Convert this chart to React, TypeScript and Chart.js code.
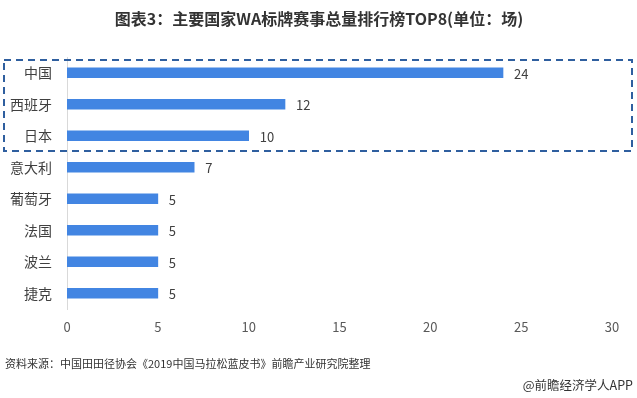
import React, { useEffect, useRef } from "react";
import { Chart, registerables } from "chart.js";

Chart.register(...registerables);

const categories = ["中国", "西班牙", "日本", "意大利", "葡萄牙", "法国", "波兰", "捷克"];
const values = [24, 12, 10, 7, 5, 5, 5, 5];
const xTicks = [0, 5, 10, 15, 20, 25, 30];
const titleText = "图表3：主要国家WA标牌赛事总量排行榜TOP8(单位：场)";
const sourceText = "资料来源：中国田田径协会《2019中国马拉松蓝皮书》前瞻产业研究院整理";
const creditText = "@前瞻经济学人APP";
const highlightCount = 3;

const FONT = '"Noto Sans CJK SC", "Noto Sans", sans-serif';

const overlayPlugin = {
  id: "overlay",
  afterDatasetsDraw(chart: any) {
    const ctx = chart.ctx as CanvasRenderingContext2D;
    const meta = chart.getDatasetMeta(0);
    ctx.save();
    // data labels
    ctx.font = `13px ${FONT}`;
    ctx.fillStyle = "#404040";
    ctx.textBaseline = "middle";
    ctx.textAlign = "left";
    meta.data.forEach((bar: any, i: number) => {
      ctx.fillText(String(values[i]), bar.x + 11, bar.y + 1);
    });
    // dashed highlight box
    const yScale = chart.scales.y;
    const step = yScale.getPixelForValue(1) - yScale.getPixelForValue(0);
    const top = yScale.getPixelForValue(0) - step / 2 + 3;
    const bottom = yScale.getPixelForValue(highlightCount - 1) + step / 2 - 0.5;
    ctx.strokeStyle = "#2f5f9f";
    ctx.lineWidth = 2;
    ctx.setLineDash([7, 5]);
    ctx.strokeRect(4, top, 628, bottom - top);
    ctx.setLineDash([]);
    // title
    ctx.font = `bold 16px ${FONT}`;
    ctx.fillStyle = "#333333";
    ctx.textAlign = "center";
    ctx.fillText(titleText, 319, 19);
    // footer
    ctx.font = `11px ${FONT}`;
    ctx.textAlign = "left";
    ctx.fillStyle = "#333333";
    ctx.fillText(sourceText, 5, 364);
    ctx.font = `12.5px ${FONT}`;
    ctx.textAlign = "right";
    ctx.fillText(creditText, 633, 385);
    ctx.restore();
  },
};

export default function App() {
  const ref = useRef<HTMLCanvasElement>(null);
  useEffect(() => {
    if (!ref.current) return;
    const chart = new Chart(ref.current, {
      type: "bar",
      data: {
        labels: categories,
        datasets: [
          {
            data: values,
            backgroundColor: "#4285e2",
            barThickness: 10,
          },
        ],
      },
      options: {
        indexAxis: "y",
        responsive: false,
        animation: false,
        layout: { padding: { top: 57, right: 25, bottom: 59, left: 0 } },
        plugins: { legend: { display: false }, tooltip: { enabled: false }, title: { display: false } },
        scales: {
          x: {
            min: 0,
            max: 30,
            afterBuildTicks(scale: any) {
              scale.ticks = xTicks.map((v) => ({ value: v }));
            },
            afterFit(scale: any) {
              scale.height = 30;
            },
            grid: { display: false, drawTicks: false },
            border: { display: false },
            ticks: { color: "#595959", font: { size: 13, family: FONT }, padding: 10 },
          },
          y: {
            afterFit(scale: any) {
              scale.width = 67;
            },
            grid: { display: false, drawTicks: false },
            border: { display: true, color: "#d9d9d9", width: 1 },
            ticks: { color: "#404040", font: { size: 14, family: FONT }, padding: 15 },
          },
        },
      },
      plugins: [overlayPlugin],
    });
    return () => chart.destroy();
  }, []);
  return (
    <div style={{ position: "fixed", left: 0, top: 0, width: 637, height: 398, background: "#fff" }}>
      <canvas ref={ref} width={637} height={398} style={{ width: 637, height: 398 }} />
    </div>
  );
}
